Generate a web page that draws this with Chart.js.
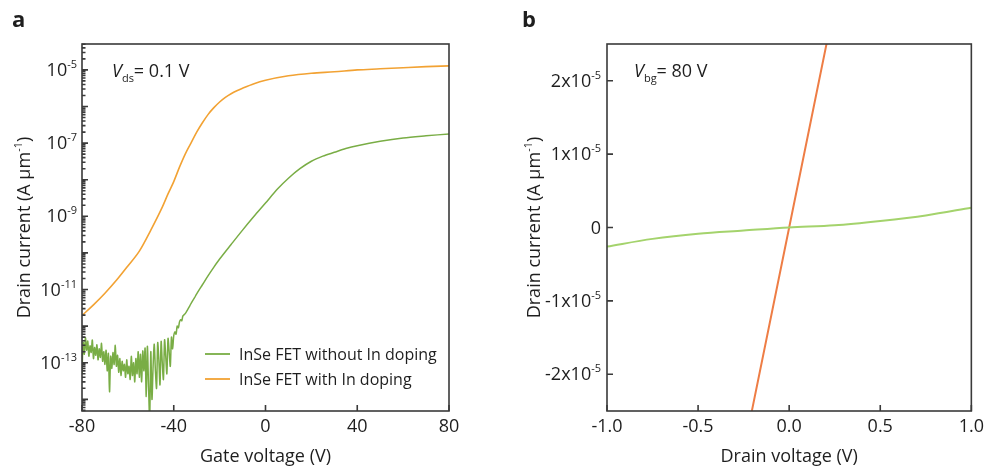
<!DOCTYPE html>
<html>
<head>
<meta charset="utf-8">
<script src="https://cdn.jsdelivr.net/npm/chart.js@4.4.1/dist/chart.umd.min.js"></script>
<style>
  body { margin: 0; background: #fff; width: 989px; height: 473px; overflow: hidden; position: relative; }
  .panel { position: absolute; top: 0; height: 473px; }
  #pa { left: 0; width: 495px; }
  #pb { left: 495px; width: 494px; }
</style>
</head>
<body>
<div class="panel" id="pa"><canvas id="chartA"></canvas></div>
<div class="panel" id="pb"><canvas id="chartB"></canvas></div>
<script>
// ---- panel a: transfer curves (log scale) ----
const gateVoltageWithout = [
  -80, -79.5, -79, -78.5, -78, -77.5, -77, -76.5, -76, -75.5,
  -75, -74.5, -74, -73.5, -73, -72.5, -72, -71.5, -71, -70.5,
  -70, -69.5, -69, -68.5, -68, -67.5, -67, -66.5, -66, -65.5,
  -65, -64.5, -64, -63.5, -63, -62.5, -62, -61.5, -61, -60.5,
  -60, -59.5, -59, -58.5, -58, -57.5, -57, -56.5, -56, -55.5,
  -55, -54.5, -54, -53.5, -53, -52.5, -52, -51.5, -51, -50.5,
  -50, -49.5, -49, -48.5, -48, -47.5, -47, -46.5, -46, -45.5,
  -45, -44.5, -44, -43.5, -43, -42.5, -42, -41.5, -41, -40.5,
  -40, -39.5, -39, -38.5, -38, -37.5, -37, -36.5, -36, -35,
  -34, -33, -32, -31, -30, -27.5, -25, -22.5, -20, -15,
  -10, -5, 0, 5, 10, 15, 20, 25, 30, 35, 40, 50, 60, 70, 80
];
const currentWithout = [
  5.0e-14, 3.6e-13, 1.7e-13, 4.8e-13, 2.2e-13, 3.9e-13, 1.5e-13, 2.9e-13, 1.9e-13, 4.2e-13,
  1.3e-13, 2.6e-13, 1.6e-13, 3.1e-13, 1.2e-13, 2.4e-13, 1.4e-13, 3.4e-13, 1.1e-13, 2.0e-13,
  9.0e-14, 2.2e-13, 6.0e-14, 1.8e-13, 1.6e-14, 1.5e-13, 7.0e-14, 1.9e-13, 9.0e-14, 3.0e-13,
  8.0e-14, 1.6e-13, 5.5e-14, 1.3e-13, 4.5e-14, 1.1e-13, 6.0e-14, 9.0e-14, 4.0e-14, 1.2e-13,
  5.0e-14, 8.0e-14, 3.5e-14, 1.5e-13, 4.5e-14, 1.0e-13, 3.0e-14, 1.3e-13, 5.0e-14, 2.0e-13,
  4.0e-14, 1.7e-13, 3.0e-14, 2.1e-13, 6.0e-14, 2.5e-13, 1.2e-14, 2.8e-13, 2.5e-14, 3.0e-15,
  2.0e-13, 1.0e-14, 8.0e-14, 3.2e-13, 6.0e-14, 2.0e-14, 3.5e-13, 1.2e-13, 2.5e-14, 3.8e-13,
  1.0e-13, 3.5e-14, 4.2e-13, 1.5e-13, 5.0e-14, 4.6e-13, 2.0e-13, 8.0e-14, 5.0e-13, 2.4e-13,
  5.5e-13, 7.0e-13, 6.0e-13, 1.0e-12, 9.0e-13, 1.3e-12, 1.5e-12, 1.4e-12, 1.9e-12, 2.2e-12,
  2.8e-12, 3.6e-12, 4.7e-12, 5.9e-12, 7.6e-12, 1.35e-11, 2.4e-11, 4.1e-11, 6.8e-11, 1.7e-10,
  4.2e-10, 1.0e-9, 2.3e-9, 5.4e-9, 1.1e-8, 2.0e-8, 3.2e-8, 4.4e-8, 5.6e-8, 7.1e-8, 8.5e-8, 1.12e-7, 1.38e-7, 1.58e-7, 1.78e-7
];
const gateVoltageWith = [
  -80, -75, -70, -65, -60, -55, -50, -45, -42.5, -40,
  -37.5, -35, -32.5, -30, -27.5, -25, -22.5, -20, -17.5, -15,
  -12.5, -10, -5, 0, 10, 20, 30, 40, 50, 60,
  70, 80
];
const currentWith = [
  1.95e-12, 3.8e-12, 7.9e-12, 1.78e-11, 4.4e-11, 1.12e-10, 4.2e-10, 1.78e-9, 4.1e-9, 8.9e-9,
  2.2e-8, 5.0e-8, 1.0e-7, 2.0e-7, 3.6e-7, 6.1e-7, 9.3e-7, 1.33e-6, 1.78e-6, 2.24e-6,
  2.7e-6, 3.16e-6, 4.2e-6, 5.2e-6, 6.9e-6, 8.1e-6, 8.9e-6, 1.0e-5, 1.07e-5, 1.15e-5,
  1.23e-5, 1.29e-5
];
const logLabelExponents = [-13, -11, -9, -7, -5];
const seriesNamesA = ['InSe FET without In doping', 'InSe FET with In doping'];

// ---- panel b: output curves (linear) ----
const drainVoltageWithout = [-1, -0.75, -0.5, -0.25, 0, 0.25, 0.5, 0.75, 1];
const drainCurrentWithout = [-2.6e-6, -1.55e-6, -0.85e-6, -0.42e-6, 0, 0.3e-6, 0.9e-6, 1.65e-6, 2.7e-6];
const drainVoltageWith = [-0.3, 0, 0.3];
const drainCurrentWith = [-3.66e-5, 0, 3.66e-5];
const linearTicksB = [2e-5, 1e-5, 0, -1e-5, -2e-5];

const GREEN_A = '#79ad45', ORANGE_A = '#f2a233';
const GREEN_B = '#a4d36c', ORANGE_B = '#ee7d45';
const INK = '#1e1e1e', FRAME = '#3a3a3a';
const F = (size, style) => (style ? style + ' ' : '') + size + 'px "Open Sans", sans-serif';
const pts = (xs, ys) => xs.map((x, i) => ({ x: x, y: ys[i] }));

// draws a run of text pieces (for sub/superscripts), left baseline
function richText(ctx, parts, x, y, align) {
  let w = 0;
  parts.forEach(p => { ctx.font = p.font; p.w = ctx.measureText(p.t).width; w += p.w; });
  let cx = align === 'right' ? x - w : align === 'center' ? x - w / 2 : x;
  ctx.textAlign = 'left';
  ctx.textBaseline = 'alphabetic';
  parts.forEach(p => { ctx.font = p.font; ctx.fillText(p.t, cx, y + (p.dy || 0)); cx += p.w; });
}

function drawFrameAndXTicks(chart) {
  const ctx = chart.ctx, a = chart.chartArea, xs = chart.scales.x;
  ctx.strokeStyle = FRAME;
  ctx.lineWidth = 1.6;
  ctx.strokeRect(a.left, a.top, a.right - a.left, a.bottom - a.top);
  ctx.beginPath();
  xs.ticks.forEach(t => {
    const px = xs.getPixelForValue(t.value);
    ctx.moveTo(px, a.bottom);
    ctx.lineTo(px, a.bottom - 6);
  });
  ctx.stroke();
}

function yTitle(ctx, cx, cy) {
  ctx.save();
  ctx.translate(cx, cy);
  ctx.rotate(-Math.PI / 2);
  richText(ctx, [
    { t: 'Drain current (A µm', font: F(18) },
    { t: '-1', font: F(11), dy: -8 },
    { t: ')', font: F(18) }
  ], 0, 6, 'center');
  ctx.restore();
}

const decorA = {
  id: 'decorA',
  afterDraw(chart) {
    const ctx = chart.ctx, a = chart.chartArea, ys = chart.scales.y;
    ctx.save();
    drawFrameAndXTicks(chart);
    // log ticks, inward
    ctx.beginPath();
    for (let e = -15; e <= -5; e++) {
      for (let m = 1; m <= 9; m++) {
        const v = m * Math.pow(10, e);
        if (v < ys.min || v > ys.max) continue;
        const py = ys.getPixelForValue(v);
        ctx.moveTo(a.left, py);
        ctx.lineTo(a.left + (m === 1 ? 6 : 3.5), py);
      }
    }
    ctx.stroke();
    ctx.fillStyle = INK;
    logLabelExponents.forEach(e => {
      const py = ys.getPixelForValue(Math.pow(10, e));
      richText(ctx, [{ t: '10', font: F(18) }, { t: String(e), font: F(11), dy: -8 }], 77, py + 6, 'right');
    });
    yTitle(ctx, 24, (a.top + a.bottom) / 2);
    // panel letter and condition
    ctx.font = F(22, 'bold');
    ctx.fillText('a', 12, 27);
    richText(ctx, [
      { t: 'V', font: F(18, 'italic') },
      { t: 'ds', font: F(11), dy: 5 },
      { t: '= 0.1 V', font: F(18) }
    ], 112, 77, 'left');
    // legend
    const colors = [GREEN_A, ORANGE_A];
    seriesNamesA.forEach((name, i) => {
      const ly = 354 + i * 25;
      ctx.strokeStyle = colors[i];
      ctx.lineWidth = 1.8;
      ctx.beginPath();
      ctx.moveTo(205, ly);
      ctx.lineTo(230, ly);
      ctx.stroke();
      richText(ctx, [{ t: name, font: F(16) }], 239, ly + 6, 'left');
    });
    ctx.restore();
  }
};

const decorB = {
  id: 'decorB',
  afterDraw(chart) {
    const ctx = chart.ctx, a = chart.chartArea, ys = chart.scales.y;
    ctx.save();
    drawFrameAndXTicks(chart);
    ctx.beginPath();
    linearTicksB.forEach(v => {
      const py = ys.getPixelForValue(v);
      ctx.moveTo(a.left, py);
      ctx.lineTo(a.left + 6, py);
    });
    ctx.stroke();
    ctx.fillStyle = INK;
    linearTicksB.forEach(v => {
      const py = ys.getPixelForValue(v);
      const m = Math.round(v / 1e-5);
      const parts = m === 0 ? [{ t: '0', font: F(18) }]
        : [{ t: m + 'x10', font: F(18) }, { t: '-5', font: F(11), dy: -8 }];
      richText(ctx, parts, 106, py + 6, 'right');
    });
    yTitle(ctx, 39, (a.top + a.bottom) / 2);
    ctx.font = F(22, 'bold');
    ctx.fillText('b', 27, 27);
    richText(ctx, [
      { t: 'V', font: F(18, 'italic') },
      { t: 'bg', font: F(11), dy: 5 },
      { t: '= 80 V', font: F(18) }
    ], 139, 77, 'left');
    ctx.restore();
  }
};

function xAxis(min, max, step, title, fmt) {
  return {
    type: 'linear', min: min, max: max,
    ticks: { stepSize: step, font: { family: 'Open Sans', size: 18 }, color: INK, padding: 5, maxRotation: 0, callback: fmt },
    grid: { display: false, drawTicks: false },
    border: { display: false },
    title: { display: true, text: title, font: { family: 'Open Sans', size: 18 }, color: INK, padding: { top: 4, bottom: 5 } },
    afterFit: s => { s.height = 62; }
  };
}

new Chart(document.getElementById('chartA'), {
  type: 'line',
  data: {
    datasets: [
      { label: seriesNamesA[0], data: pts(gateVoltageWithout, currentWithout), borderColor: GREEN_A, borderWidth: 1.5, pointRadius: 0, tension: 0.3 },
      { label: seriesNamesA[1], data: pts(gateVoltageWith, currentWith), borderColor: ORANGE_A, borderWidth: 1.6, pointRadius: 0, cubicInterpolationMode: 'monotone' }
    ]
  },
  options: {
    responsive: true, maintainAspectRatio: false, animation: false,
    layout: { padding: { left: 0, top: 44, right: 46, bottom: 0 } },
    plugins: { legend: { display: false }, tooltip: { enabled: false } },
    scales: {
      x: xAxis(-80, 80, 40, 'Gate voltage (V)'),
      y: {
        type: 'logarithmic', min: 4.8e-15, max: 5.1e-5,
        ticks: { display: false }, grid: { display: false, drawTicks: false }, border: { display: false },
        afterFit: s => { s.width = 82; }
      }
    }
  },
  plugins: [decorA]
});

new Chart(document.getElementById('chartB'), {
  type: 'line',
  data: {
    datasets: [
      { label: 'without In', data: pts(drainVoltageWithout, drainCurrentWithout), borderColor: GREEN_B, borderWidth: 2, pointRadius: 0, cubicInterpolationMode: 'monotone' },
      { label: 'with In', data: pts(drainVoltageWith, drainCurrentWith), borderColor: ORANGE_B, borderWidth: 2, pointRadius: 0 }
    ]
  },
  options: {
    responsive: true, maintainAspectRatio: false, animation: false,
    layout: { padding: { left: 0, top: 44, right: 16, bottom: 0 } },
    plugins: { legend: { display: false }, tooltip: { enabled: false } },
    scales: {
      x: xAxis(-1, 1, 0.5, 'Drain voltage (V)', v => v.toFixed(1)),
      y: {
        type: 'linear', min: -2.5e-5, max: 2.5e-5,
        ticks: { display: false }, grid: { display: false, drawTicks: false }, border: { display: false },
        afterFit: s => { s.width = 112; }
      }
    }
  },
  plugins: [decorB]
});
</script>
</body>
</html>
